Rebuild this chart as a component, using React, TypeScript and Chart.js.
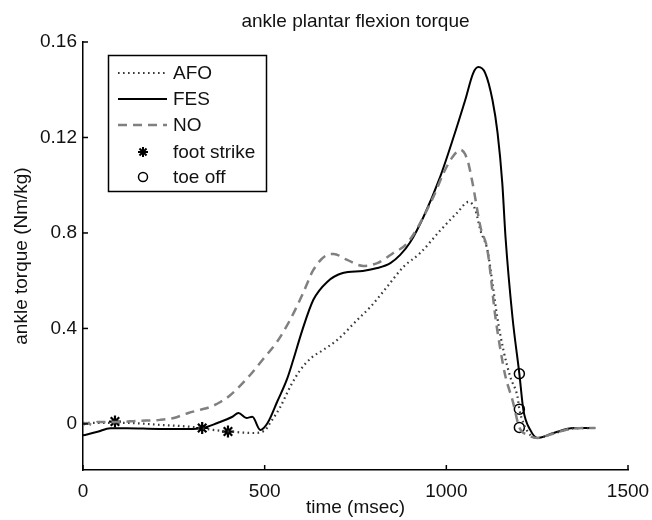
import React, { useEffect, useRef } from 'react';
import { Chart, registerables } from 'chart.js';

Chart.register(...registerables);

const FONT = '"Liberation Sans", Arial, Helvetica, sans-serif';

const TITLE = 'ankle plantar flexion torque';
const X_LABEL = 'time (msec)';
const Y_LABEL = 'ankle torque (Nm/kg)';

const timeFES = [0, 40, 75, 120, 210, 290, 330, 370, 410, 428, 450, 466, 488, 508, 535, 562, 579, 603, 634, 672, 715, 770, 810, 846, 873, 900, 937, 983, 1020, 1052, 1074, 1088, 1107, 1127, 1141, 1154, 1163, 1182, 1201, 1212, 1231, 1251, 1295, 1350, 1410];
const torqueFES = [-0.0048, -0.0033, -0.0018, -0.0018, -0.0021, -0.0021, -0.0017, 0.0004, 0.0029, 0.0046, 0.0025, 0.003, -0.0025, 0.0004, 0.0095, 0.019, 0.027, 0.039, 0.052, 0.0595, 0.0632, 0.0641, 0.0653, 0.0674, 0.0708, 0.076, 0.0867, 0.1035, 0.1202, 0.1357, 0.147, 0.1495, 0.147, 0.1357, 0.1219, 0.1009, 0.078, 0.0448, 0.021, 0.0059, -0.0025, -0.0059, -0.0038, -0.0017, -0.0017];

const timeNO = [0, 10, 25, 40, 95, 150, 212, 250, 290, 322, 350, 378, 405, 460, 496, 534, 570, 606, 634, 672, 690, 727, 771, 810, 854, 893, 964, 992, 1017, 1039, 1058, 1072, 1094, 1113, 1135, 1149, 1163, 1182, 1201, 1223, 1251, 1295, 1350, 1410];
const torqueNO = [-0.0004, 0.0004, -0.0004, 0.0008, 0.0008, 0.0013, 0.0017, 0.0025, 0.0046, 0.0059, 0.0071, 0.0092, 0.012, 0.0205, 0.0272, 0.0344, 0.0436, 0.0549, 0.0645, 0.0708, 0.0712, 0.0687, 0.0662, 0.0674, 0.0716, 0.0758, 0.095, 0.105, 0.1118, 0.1148, 0.1106, 0.101, 0.0825, 0.0729, 0.0448, 0.031, 0.0197, 0.010, -0.0015, -0.0046, -0.0059, -0.004, -0.0019, -0.0017];

const timeAFO = [0, 120, 212, 303, 358, 413, 468, 500, 515, 543, 570, 598, 631, 661, 700, 755, 791, 832, 882, 928, 983, 1030, 1061, 1080, 1094, 1113, 1127, 1140, 1157, 1176, 1196, 1201, 1212, 1231, 1251, 1295, 1350, 1410];
const torqueAFO = [0.0004, 0.0004, -0.0004, -0.0013, -0.0025, -0.0033, -0.0038, -0.0028, 0.0004, 0.0071, 0.0155, 0.0226, 0.028, 0.031, 0.0352, 0.0436, 0.049, 0.0565, 0.0658, 0.0716, 0.081, 0.0885, 0.093, 0.0896, 0.081, 0.0729, 0.059, 0.0448, 0.031, 0.0197, 0.0113, 0.0062, 0.0004, -0.0046, -0.0059, -0.004, -0.0019, -0.0017];

const footStrikeTime = [88, 328, 399];
const footStrikeTorque = [0.001, -0.0017, -0.0032];

const toeOffTime = [1201, 1201, 1201];
const toeOffTorque = [0.021, 0.0062, -0.0015];

const xTicks = [0, 500, 1000, 1500];
const xTickLabels = ['0', '500', '1000', '1500'];
const yTickValues = [0, 0.04, 0.08, 0.12, 0.16];
const yTickLabels = ['0', '0.4', '0.8', '0.12', '0.16'];

const legendLabels = ['AFO', 'FES', 'NO', 'foot strike', 'toe off'];

const pts = (xs: number[], ys: number[]) => xs.map((x, i) => ({ x, y: ys[i] }));

const STYLE = {
  AFO: { color: '#3a3a3a', width: 2.2, dash: [1.6, 3.4] },
  FES: { color: '#000000', width: 2, dash: [] as number[] },
  NO: { color: '#808080', width: 2.5, dash: [9, 6] },
};

const decorPlugin = {
  id: 'decor',
  afterDraw(chart: any) {
    const ctx = chart.ctx as CanvasRenderingContext2D;
    const xs = chart.scales.x;
    const ys = chart.scales.y;
    const area = chart.chartArea;
    ctx.save();
    ctx.strokeStyle = '#000';
    ctx.lineWidth = 1.5;
    ctx.setLineDash([]);
    xTicks.forEach((v) => {
      const px = xs.getPixelForValue(v);
      ctx.beginPath();
      ctx.moveTo(px, area.bottom);
      ctx.lineTo(px, area.bottom - 5);
      ctx.stroke();
    });
    yTickValues.forEach((v) => {
      const py = ys.getPixelForValue(v);
      ctx.beginPath();
      ctx.moveTo(area.left, py);
      ctx.lineTo(area.left + 5, py);
      ctx.stroke();
    });

    ctx.fillStyle = '#111';
    ctx.font = `19px ${FONT}`;
    ctx.textAlign = 'center';
    ctx.textBaseline = 'middle';
    const cx = (area.left + area.right) / 2;
    ctx.fillText(TITLE, cx, 22);
    ctx.fillText(X_LABEL, cx, 508);
    ctx.save();
    ctx.translate(22, 256);
    ctx.rotate(-Math.PI / 2);
    ctx.fillText(Y_LABEL, 0, 0);
    ctx.restore();

    // legend
    const bx = 108.5, by = 55.5, bw = 158, bh = 136;
    ctx.fillStyle = '#fff';
    ctx.fillRect(bx, by, bw, bh);
    ctx.strokeStyle = '#000';
    ctx.lineWidth = 1.5;
    ctx.strokeRect(bx, by, bw, bh);
    const rows = [73, 99, 125, 152, 177];
    const lineStyles = [STYLE.AFO, STYLE.FES, STYLE.NO];
    lineStyles.forEach((s, i) => {
      ctx.beginPath();
      ctx.strokeStyle = s.color;
      ctx.lineWidth = s.width;
      ctx.setLineDash(s.dash);
      ctx.moveTo(118, rows[i]);
      ctx.lineTo(167, rows[i]);
      ctx.stroke();
    });
    ctx.setLineDash([]);
    // star
    ctx.strokeStyle = '#000';
    ctx.lineWidth = 2;
    const sx = 143, sy = rows[3], r = 5;
    for (let k = 0; k < 4; k++) {
      const a = (k * Math.PI) / 4;
      ctx.beginPath();
      ctx.moveTo(sx - r * Math.cos(a), sy - r * Math.sin(a));
      ctx.lineTo(sx + r * Math.cos(a), sy + r * Math.sin(a));
      ctx.stroke();
    }
    ctx.lineWidth = 1.5;
    ctx.beginPath();
    ctx.arc(143, rows[4], 4.5, 0, Math.PI * 2);
    ctx.stroke();

    ctx.fillStyle = '#111';
    ctx.textAlign = 'left';
    ctx.font = `19px ${FONT}`;
    legendLabels.forEach((t, i) => ctx.fillText(t, 173, rows[i] + 1));
    ctx.restore();
  },
};

export default function App() {
  const ref = useRef<HTMLCanvasElement | null>(null);
  useEffect(() => {
    if (!ref.current) return;
    const lineDs = (label: string, xs: number[], ys: number[], s: any) => ({
      label,
      data: pts(xs, ys),
      borderColor: s.color,
      borderWidth: s.width,
      borderDash: s.dash,
      pointRadius: 0,
      fill: false,
      cubicInterpolationMode: 'monotone' as const,
    });
    const chart = new Chart(ref.current, {
      type: 'line',
      data: {
        datasets: [
          lineDs('NO', timeNO, torqueNO, STYLE.NO),
          lineDs('AFO', timeAFO, torqueAFO, STYLE.AFO),
          lineDs('FES', timeFES, torqueFES, STYLE.FES),
          {
            label: 'foot strike',
            data: pts(footStrikeTime, footStrikeTorque),
            showLine: false,
            pointStyle: 'star',
            pointRadius: 6,
            borderColor: '#000',
            borderWidth: 2.2,
            backgroundColor: '#000',
          },
          {
            label: 'toe off',
            data: pts(toeOffTime, toeOffTorque),
            showLine: false,
            pointStyle: 'circle',
            pointRadius: 5,
            borderColor: '#000',
            borderWidth: 1.5,
            backgroundColor: 'rgba(0,0,0,0)',
          },
        ],
      },
      options: {
        animation: false,
        responsive: false,
        layout: { padding: { top: 42, right: 24, left: 0, bottom: 0 } },
        plugins: {
          legend: { display: false },
          title: { display: false },
          tooltip: { enabled: false },
        },
        scales: {
          x: {
            type: 'linear',
            min: 0,
            max: 1500,
            grid: { display: false, drawTicks: false },
            border: { display: true, color: '#000', width: 1.5 },
            ticks: {
              padding: 10,
              color: '#111',
              font: { family: FONT, size: 19 },
              maxRotation: 0,
              callback: (v: any) => {
                const i = xTicks.indexOf(Number(v));
                return i >= 0 ? xTickLabels[i] : '';
              },
            },
            afterBuildTicks: (s: any) => {
              s.ticks = xTicks.map((v) => ({ value: v }));
            },
            afterFit: (s: any) => {
              s.height = 50;
              s.paddingLeft = 0;
              s.paddingRight = 0;
            },
          },
          y: {
            type: 'linear',
            min: -0.0193,
            max: 0.16,
            grid: { display: false, drawTicks: false },
            border: { display: true, color: '#000', width: 1.5 },
            ticks: {
              padding: 6,
              color: '#111',
              font: { family: FONT, size: 19 },
              callback: (v: any) => {
                const i = yTickValues.findIndex((t) => Math.abs(t - Number(v)) < 1e-9);
                return i >= 0 ? yTickLabels[i] : '';
              },
            },
            afterBuildTicks: (s: any) => {
              s.ticks = yTickValues.map((v) => ({ value: v }));
            },
            afterFit: (s: any) => {
              s.width = 83;
              s.paddingTop = 0;
              s.paddingBottom = 0;
            },
          },
        },
      },
      plugins: [decorPlugin],
    });
    return () => chart.destroy();
  }, []);
  return (
    <div style={{ position: 'absolute', left: 0, top: 0, width: 652, height: 520, background: '#fff' }}>
      <canvas ref={ref} width={652} height={520} style={{ width: 652, height: 520 }} />
    </div>
  );
}
